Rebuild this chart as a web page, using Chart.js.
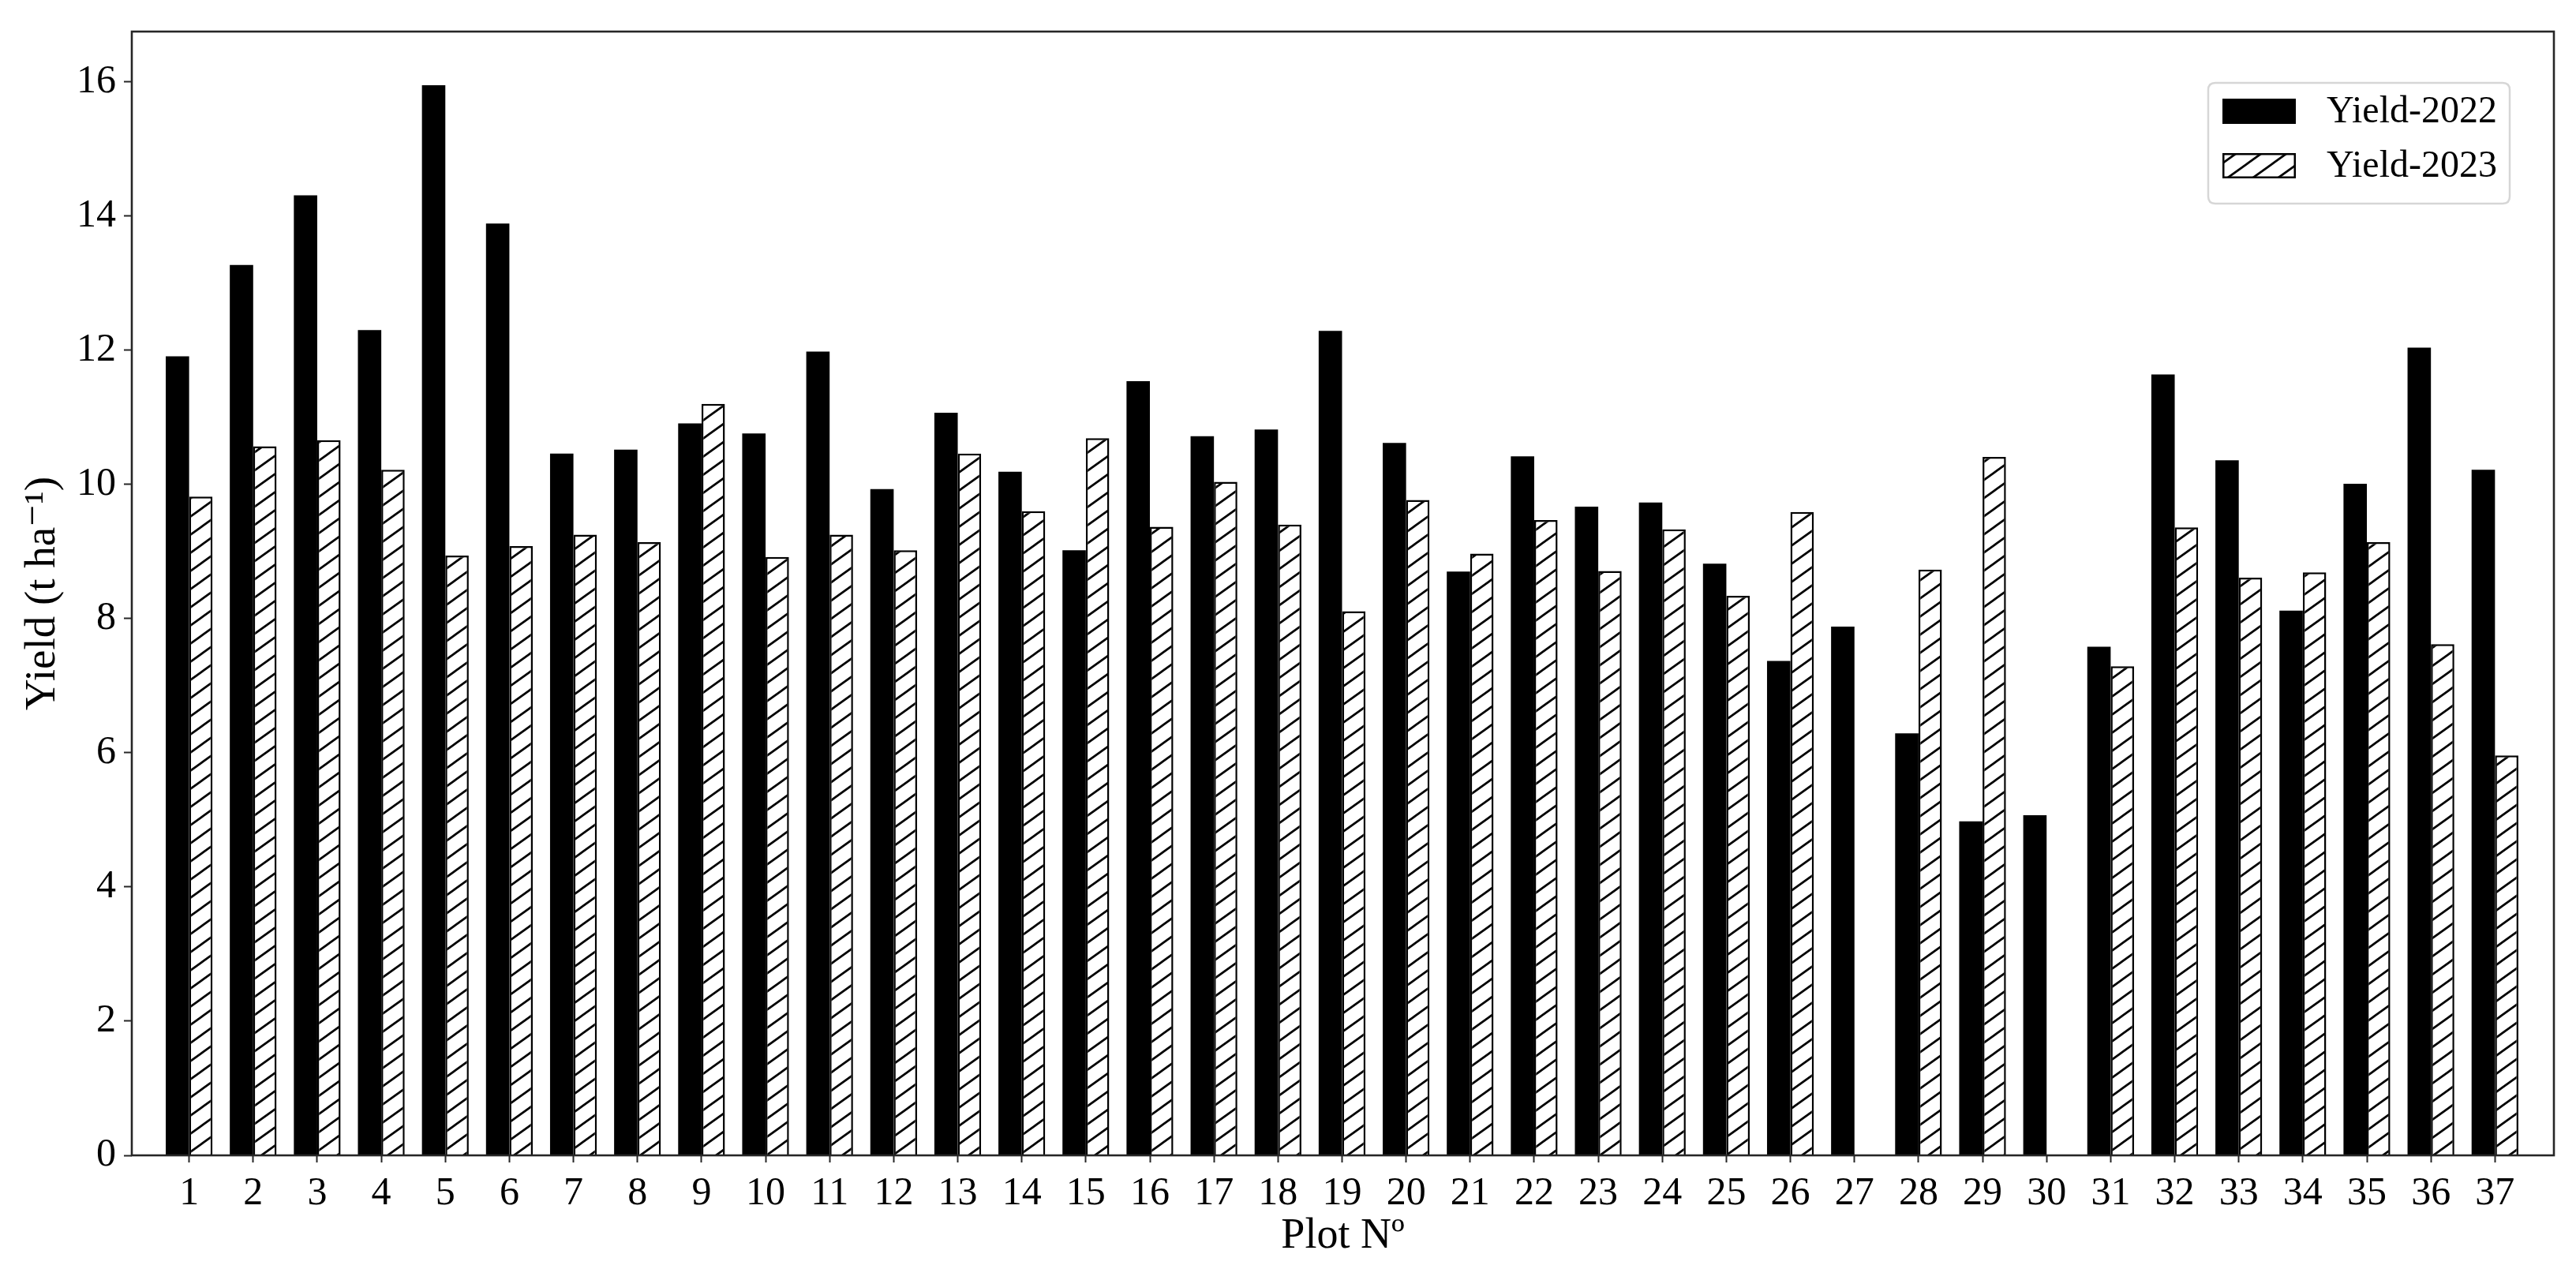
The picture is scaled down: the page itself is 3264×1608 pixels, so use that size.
<!DOCTYPE html>
<html>
<head>
<meta charset="utf-8">
<script src="https://cdn.jsdelivr.net/npm/chart.js@4.4.1/dist/chart.umd.min.js"></script>
<style>
  html, body { margin: 0; padding: 0; background: #ffffff; }
  #c { display: block; }
</style>
</head>
<body>
<canvas id="c" width="3264" height="1608"></canvas>
<script>
// ---------------- data ----------------
const plotNumbers = [1, 2, 3, 4, 5, 6, 7, 8, 9, 10, 11, 12, 13, 14, 15, 16, 17, 18, 19, 20,
                     21, 22, 23, 24, 25, 26, 27, 28, 29, 30, 31, 32, 33, 34, 35, 36, 37];
const plotLabels = ['1', '2', '3', '4', '5', '6', '7', '8', '9', '10', '11', '12', '13', '14', '15',
                    '16', '17', '18', '19', '20', '21', '22', '23', '24', '25', '26', '27', '28',
                    '29', '30', '31', '32', '33', '34', '35', '36', '37'];
const yield2022 = [11.91, 13.27, 14.31, 12.30, 15.95, 13.89, 10.46, 10.52, 10.91, 10.76,
                   11.98, 9.93, 11.07, 10.19, 9.02, 11.54, 10.72, 10.82, 12.29, 10.62,
                   8.70, 10.42, 9.67, 9.73, 8.82, 7.37, 7.88, 6.29, 4.98, 5.07,
                   7.58, 11.64, 10.36, 8.12, 10.01, 12.04, 10.22];
const yield2023 = [9.82, 10.57, 10.66, 10.22, 8.94, 9.08, 9.25, 9.14, 11.20, 8.92,
                   9.25, 9.02, 10.46, 9.60, 10.69, 9.37, 10.04, 9.40, 8.11, 9.77,
                   8.97, 9.47, 8.71, 9.33, 8.34, 9.59, null, 8.73, 10.41, null,
                   7.29, 9.36, 8.61, 8.69, 9.14, 7.62, 5.96];
const yTickValues = [0, 2, 4, 6, 8, 10, 12, 14, 16];
const seriesNames = ['Yield-2022', 'Yield-2023'];
const xTitle = 'Plot Nº';
const yTitle = 'Yield (t ha\u207B\u00B9)';

// ---------------- styles ----------------
const FONT = '"Liberation Serif", "DejaVu Serif", serif';

function makeHatch() {
  const W = 32, H = 23;
  const c = document.createElement('canvas');
  c.width = W; c.height = H;
  const g = c.getContext('2d');
  g.fillStyle = '#ffffff';
  g.fillRect(0, 0, W, H);
  g.strokeStyle = '#000000';
  g.lineWidth = 2.7;
  for (const k of [-1, 0, 1]) {
    g.beginPath();
    g.moveTo(-W, 2 * H + k * H);
    g.lineTo(2 * W, -H + k * H);
    g.stroke();
  }
  return g.createPattern(c, 'repeat');
}
const hatch = makeHatch();

const framePlugin = {
  id: 'frame',
  afterDatasetsDraw(chart) {
    const { ctx, chartArea: a } = chart;
    ctx.save();
    ctx.strokeStyle = '#262626';
    ctx.lineWidth = 2.6;
    ctx.strokeRect(a.left, a.top, a.right - a.left, a.bottom - a.top);
    ctx.restore();
  }
};

const boxLegend = {
  id: 'boxLegend',
  afterDraw(chart) {
    const { ctx, chartArea: a } = chart;
    const bw = 382, bh = 153;
    const bx = a.right - 438, by = a.top + 65;
    const r = 9;
    ctx.save();
    ctx.beginPath();
    ctx.moveTo(bx + r, by);
    ctx.lineTo(bx + bw - r, by);
    ctx.quadraticCurveTo(bx + bw, by, bx + bw, by + r);
    ctx.lineTo(bx + bw, by + bh - r);
    ctx.quadraticCurveTo(bx + bw, by + bh, bx + bw - r, by + bh);
    ctx.lineTo(bx + r, by + bh);
    ctx.quadraticCurveTo(bx, by + bh, bx, by + bh - r);
    ctx.lineTo(bx, by + r);
    ctx.quadraticCurveTo(bx, by, bx + r, by);
    ctx.closePath();
    ctx.fillStyle = 'rgba(255,255,255,0.85)';
    ctx.fill();
    ctx.strokeStyle = '#d6d6d6';
    ctx.lineWidth = 2.5;
    ctx.stroke();
    chart.data.datasets.forEach((ds, i) => {
      const px = bx + 18, py = by + 20 + i * 69, pw = 93, ph = 32;
      ctx.fillStyle = ds.backgroundColor;
      ctx.fillRect(px, py, pw, ph);
      if (ds.borderWidth) {
        ctx.strokeStyle = ds.borderColor;
        ctx.lineWidth = ds.borderWidth;
        ctx.strokeRect(px + ds.borderWidth / 2, py + ds.borderWidth / 2,
                       pw - ds.borderWidth, ph - ds.borderWidth);
      }
      ctx.fillStyle = '#000000';
      ctx.font = '48px ' + FONT;
      ctx.textBaseline = 'middle';
      ctx.textAlign = 'left';
      ctx.fillText(ds.label, bx + 150, py + ph / 2 + 1);
    });
    ctx.restore();
  }
};

const ctx = document.getElementById('c').getContext('2d');
new Chart(ctx, {
  type: 'bar',
  data: {
    datasets: [
      {
        label: seriesNames[0],
        data: plotNumbers.map((p, i) => ({ x: p, y: yield2022[i] })),
        backgroundColor: '#000000',
        borderWidth: 0,
        categoryPercentage: 0.73,
        barPercentage: 1.0
      },
      {
        label: seriesNames[1],
        data: plotNumbers.map((p, i) => ({ x: p, y: yield2023[i] })),
        backgroundColor: hatch,
        borderColor: '#000000',
        borderWidth: 2.5,
        categoryPercentage: 0.73,
        barPercentage: 1.0
      }
    ]
  },
  options: {
    responsive: false,
    animation: false,
    devicePixelRatio: 1,
    layout: { padding: { left: 0, top: 35, right: 28, bottom: 0 } },
    plugins: {
      legend: { display: false },
      tooltip: { enabled: false }
    },
    scales: {
      x: {
        type: 'linear',
        min: 0.105,
        max: 37.92,
        offset: false,
        afterFit(s) { s.height = 144; },
        grid: {
          display: true, offset: false, drawOnChartArea: false, drawTicks: true,
          tickLength: 9, tickWidth: 2, tickColor: '#262626'
        },
        border: { display: false },
        ticks: {
          stepSize: 1,
          includeBounds: false,
          autoSkip: false,
          maxRotation: 0,
          minRotation: 0,
          padding: 10,
          color: '#000000',
          font: { family: FONT, size: 50 },
          callback: (v) => {
            const k = plotNumbers.indexOf(v);
            return k >= 0 ? plotLabels[k] : '';
          }
        },
        title: {
          display: true,
          text: xTitle,
          color: '#000000',
          font: { family: FONT, size: 54 },
          padding: { top: 0, bottom: 9 }
        }
      },
      y: {
        min: 0,
        max: 16.75,
        afterFit(s) { s.width = 167; },
        afterBuildTicks(s) { s.ticks = yTickValues.map(v => ({ value: v })); },
        grid: {
          display: true, drawOnChartArea: false, drawTicks: true,
          tickLength: 10, tickWidth: 2, tickColor: '#262626'
        },
        border: { display: false },
        ticks: {
          stepSize: 2,
          includeBounds: false,
          padding: 10,
          color: '#000000',
          font: { family: FONT, size: 50 }
        },
        title: {
          display: true,
          text: yTitle,
          color: '#000000',
          font: { family: FONT, size: 55 },
          padding: { top: 22, bottom: 0 }
        }
      }
    }
  },
  plugins: [framePlugin, boxLegend]
});
</script>
</body>
</html>
